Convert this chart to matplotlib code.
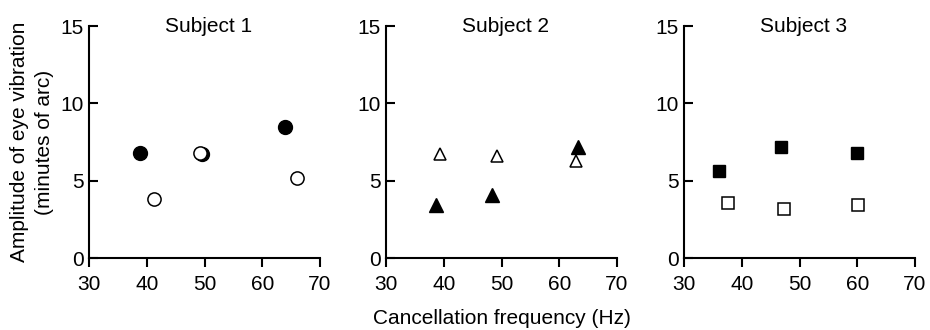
import matplotlib.pyplot as plt

plt.rcParams['font.family'] = ['Liberation Sans', 'DejaVu Sans']
plt.rcParams['font.size'] = 15

titles = ['Subject 1', 'Subject 2', 'Subject 3']
markers = ['o', '^', 's']
sizes = [10, 9.5, 9]

# filled symbols
filled_x = [[38.8, 49.6, 64.0], [38.7, 48.3, 63.3], [36.0, 46.8, 59.9]]
filled_y = [[6.8, 6.7, 8.5], [3.45, 4.05, 7.15], [5.6, 7.2, 6.8]]
# open symbols
open_x = [[41.2, 49.3, 66.0], [39.4, 49.3, 62.9], [37.6, 47.3, 60.1]]
open_y = [[3.8, 6.8, 5.15], [6.7, 6.6, 6.25], [3.55, 3.2, 3.4]]

xticks = [30, 40, 50, 60, 70]
yticks = [0, 5, 10, 15]

fig = plt.figure(figsize=(9.3, 3.3), dpi=100)
lefts = [89, 386, 684]

for i in range(3):
    ax = fig.add_axes([lefts[i] / 930, 72 / 330, 231 / 930, 232 / 330])
    ax.plot(filled_x[i], filled_y[i], linestyle='none', marker=markers[i],
            markersize=sizes[i], color='black', zorder=3, clip_on=False)
    ax.plot(open_x[i], open_y[i], linestyle='none', marker=markers[i],
            markersize=sizes[i] - 0.5, markerfacecolor='white',
            markeredgecolor='black', markeredgewidth=1.1, zorder=4, clip_on=False)

    ax.set_xlim(30, 70)
    ax.set_ylim(0, 15)
    ax.set_xticks(xticks)
    ax.set_yticks(yticks)
    for s in ['top', 'right']:
        ax.spines[s].set_visible(False)
    for s in ['left', 'bottom']:
        ax.spines[s].set_linewidth(1.5)
    ax.tick_params(axis='x', direction='out', length=6.5, width=1.5, pad=6)
    ax.tick_params(axis='y', direction='in', length=6.5, width=1.5, pad=4)
    ax.text(0.518, 0.974, titles[i], transform=ax.transAxes,
            ha='center', va='baseline')

fig.text(32 / 930, 1 - 142 / 330, 'Amplitude of eye vibration\n(minutes of arc)',
         rotation=90, ha='center', va='center', multialignment='center',
         linespacing=1.4)
fig.text(502 / 930, 1 - 319 / 330, 'Cancellation frequency (Hz)',
         ha='center', va='center')

fig.savefig('out.png', dpi=100)
